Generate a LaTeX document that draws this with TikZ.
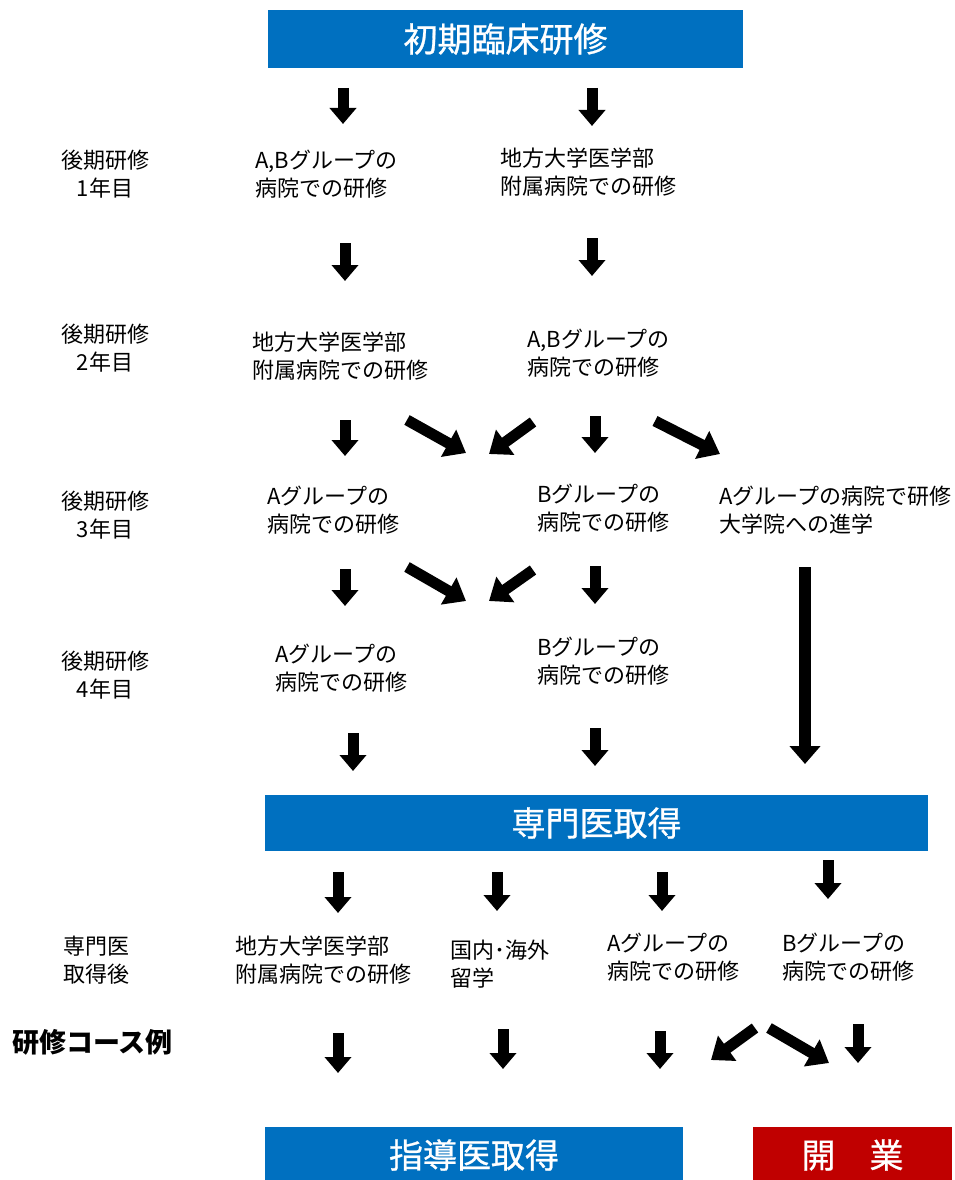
\documentclass[tikz,border=0pt]{standalone}
\usepackage{fontspec}
\newfontfamily\jp{Noto Sans CJK JP}
\newfontfamily\jpband[FakeBold=0.8]{Noto Sans CJK JP}
\usetikzlibrary{arrows.meta}
\definecolor{bandblue}{HTML}{0070C0}
\definecolor{bandred}{HTML}{C00000}
\tikzset{
  band/.style={fill=bandblue, text=white, inner sep=0, font=\jpband\fontsize{34}{40}\selectfont},
  redband/.style={band, fill=bandred},
  lbl/.style={inner sep=0, align=left, anchor=west, font=\jp\fontsize{22}{28}\selectfont},
  yearlbl/.style={inner sep=0, align=center, font=\jp\fontsize{22}{28}\selectfont},
  titlelbl/.style={inner sep=0, anchor=west, font=\jp\bfseries\fontsize{27}{32}\selectfont},
  barrow/.style={line width=11pt, -{Triangle[width=26pt,length=16pt]}},
  darrow/.style={line width=11pt, -{Triangle[width=30pt,length=20pt]}},
  longarrow/.style={line width=12pt, -{Triangle[width=30pt,length=18pt]}},
}
\newcommand\blk[3]{\coordinate (#1s) at (#2); \coordinate (#1e) at (#3); \draw[barrow] (#1s) -- (#1e);}
\newcommand\dblk[3]{\coordinate (#1s) at (#2); \coordinate (#1e) at (#3); \draw[darrow] (#1s) -- (#1e);}
\begin{document}
\begin{tikzpicture}[x=1pt,y=-1pt]
\useasboundingbox (0,0) rectangle (955,1180);
% banners
\node[band, minimum width=475, minimum height=58] (top) at (505.5,39) {初期臨床研修};
\node[band, minimum width=663, minimum height=56] (spec) at (596.5,823) {専門医取得};
\node[band, minimum width=418, minimum height=56] (guide) at (474,1155) {指導医取得};
\node[redband, minimum width=199, minimum height=56] (open) at (852.5,1155) {開　業};
% year labels
\node[yearlbl] (y1) at (105,174) {後期研修\\1年目};
\node[yearlbl] (y2) at (105,348) {後期研修\\2年目};
\node[yearlbl] (y3) at (105,515) {後期研修\\3年目};
\node[yearlbl] (y4) at (105,675) {後期研修\\4年目};
\node[lbl] (y5) at (63,960) {専門医\\取得後};
\node[titlelbl] (title) at (12,1042) {研修コース例};
% texts
\node[lbl] (c1r1) at (255,174) {A,Bグループの\\病院での研修};
\node[lbl] (c2r1) at (500,172) {地方大学医学部\\附属病院での研修};
\node[lbl] (c1r2) at (252,356) {地方大学医学部\\附属病院での研修};
\node[lbl] (c2r2) at (527,353) {A,Bグループの\\病院での研修};
\node[lbl] (c1r3) at (267,510) {Aグループの\\病院での研修};
\node[lbl] (c2r3) at (537,508) {Bグループの\\病院での研修};
\node[lbl] (c3r3) at (719,510) {Aグループの病院で研修\\大学院への進学};
\node[lbl] (c1r4) at (275,668) {Aグループの\\病院での研修};
\node[lbl] (c2r4) at (537,661) {Bグループの\\病院での研修};
\node[lbl] (c1r6) at (235,960) {地方大学医学部\\附属病院での研修};
\node[lbl] (c2r6) at (450,964) {国内･海外\\留学};
\node[lbl] (c3r6) at (607,957) {Aグループの\\病院での研修};
\node[lbl] (c4r6) at (782,957) {Bグループの\\病院での研修};
% arrows
\blk{a11}{343,88}{343,124}
\blk{a12}{592,88}{592,126}
\blk{a21}{345,243}{345,281}
\blk{a22}{592,238}{592,276}
\blk{a31}{345,420}{345,456}
\dblk{a32}{407,420}{466,453}
\dblk{a33}{533,422}{489,454}
\blk{a34}{595,416}{595,453}
\dblk{a35}{655,421}{720,454}
\blk{a41}{345,569}{345,606}
\dblk{a42}{407,567}{466,601}
\dblk{a43}{533,570}{489,601}
\blk{a44}{595,566}{595,604}
\coordinate (lgs) at (805,567); \coordinate (lge) at (805,764);
\draw[longarrow] (lgs) -- (lge);
\blk{a51}{353,733}{353,771}
\blk{a52}{595,728}{595,766}
\blk{a61}{338,872}{338,913}
\blk{a62}{497,872}{497,911}
\blk{a63}{662,872}{662,911}
\blk{a64}{828,860}{828,899}
\blk{a71}{338,1033}{338,1073}
\blk{a72}{503,1029}{503,1069}
\blk{a73}{660,1031}{660,1069}
\dblk{a74}{755,1028}{711,1060}
\dblk{a75}{769,1028}{829,1063}
\blk{a76}{858,1024}{858,1063}
\end{tikzpicture}
\end{document}
